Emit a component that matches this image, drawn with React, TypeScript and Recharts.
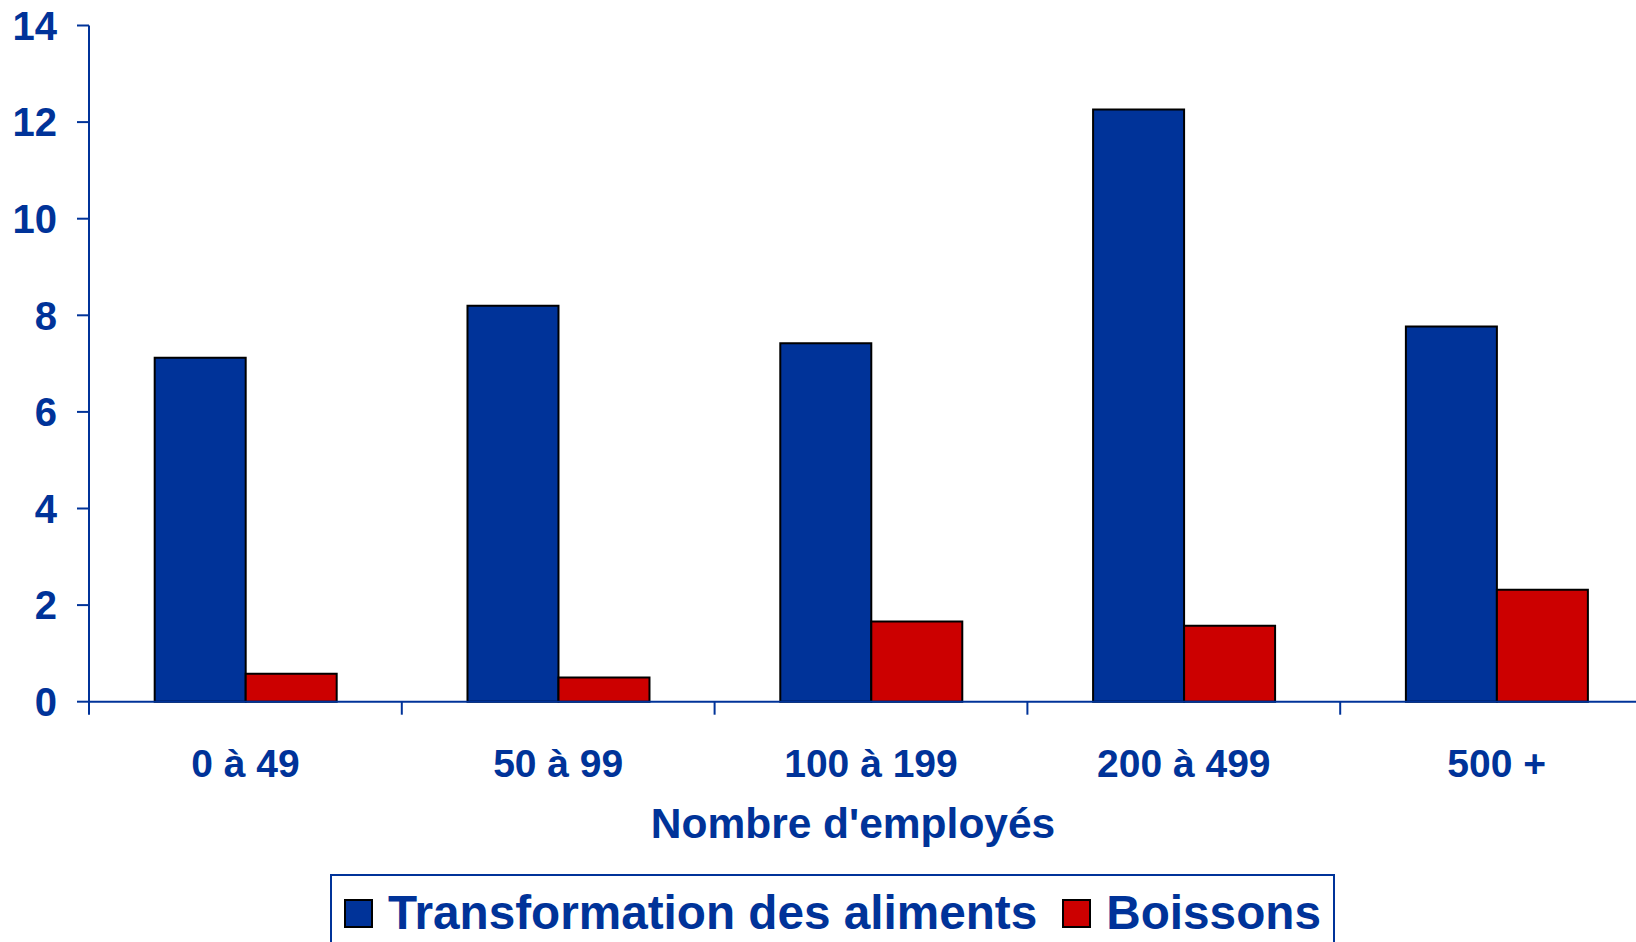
import { BarChart, Bar, XAxis, YAxis, Label } from 'recharts';

const categories = ['0 à 49', '50 à 99', '100 à 199', '200 à 499', '500 +'];
const transformation = [7.12, 8.2, 7.42, 12.26, 7.77];
const boissons = [0.58, 0.5, 1.66, 1.57, 2.32];
const yTicks = [0, 2, 4, 6, 8, 10, 12, 14];
const seriesNames = ['Transformation des aliments', 'Boissons'];
const xTitle = "Nombre d'employés";

const BLUE = '#003399';
const RED = '#CC0000';
const FONT = '"Liberation Sans", Arial, Helvetica, sans-serif';

const data = categories.map((name, i) => ({
  name,
  transformation: transformation[i],
  boissons: boissons[i],
}));

function CategoryTick(props: any) {
  const { x, y, payload } = props;
  const half = payload && payload.offset ? payload.offset : 156;
  return (
    <g>
      <line x1={x - half} x2={x - half} y1={y} y2={y + 13} stroke={BLUE} strokeWidth={2} />
      <text
        x={x}
        y={y + 48}
        dy="0.71em"
        textAnchor="middle"
        fill={BLUE}
        fontSize={39}
        fontWeight="bold"
        fontFamily={FONT}
      >
        {payload.value}
      </text>
    </g>
  );
}

function AxisTitle(props: any) {
  const vb = props.viewBox || { x: 89, y: 701.7, width: 1564 };
  return (
    <text
      x={vb.x + vb.width / 2 - 18}
      y={vb.y + 136}
      textAnchor="middle"
      fill={BLUE}
      fontSize={42.5}
      fontWeight="bold"
      fontFamily={FONT}
    >
      {xTitle}
    </text>
  );
}

function LegendBox() {
  const colors = [BLUE, RED];
  return (
    <div
      style={{
        position: 'absolute',
        left: 330,
        top: 874,
        width: 1005,
        height: 120,
        boxSizing: 'border-box',
        border: `2px solid ${BLUE}`,
        background: '#fff',
      }}
    >
      <div
        style={{
          position: 'absolute',
          left: 12,
          top: 7,
          height: 60,
          display: 'flex',
          alignItems: 'center',
          whiteSpace: 'nowrap',
        }}
      >
        {seriesNames.map((name, i) => (
          <div key={name} style={{ display: 'flex', alignItems: 'center', marginRight: 25 }}>
            <span
              style={{
                display: 'inline-block',
                width: 29,
                height: 29,
                boxSizing: 'border-box',
                border: '2px solid #000',
                background: colors[i],
                marginRight: 15,
              }}
            />
            <span
              style={{
                color: BLUE,
                fontFamily: FONT,
                fontWeight: 'bold',
                fontSize: 47.7,
                lineHeight: 1.15,
              }}
            >
              {name}
            </span>
          </div>
        ))}
      </div>
    </div>
  );
}

export default function App() {
  return (
    <div
      style={{
        position: 'fixed',
        left: 0,
        top: 0,
        width: 1636,
        height: 942,
        overflow: 'hidden',
        background: '#fff',
      }}
    >
      <BarChart
        width={1673}
        height={1000}
        data={data}
        margin={{ top: 25.5, right: 20, left: 0, bottom: 238.3 }}
        barCategoryGap="21%"
        barGap={0}
      >
        <XAxis
          dataKey="name"
          height={60}
          tickSize={0}
          tickMargin={0}
          tickLine={false}
          axisLine={{ stroke: BLUE, strokeWidth: 2 }}
          tick={<CategoryTick />}
          interval={0}
        >
          <Label content={<AxisTitle />} />
        </XAxis>
        <YAxis
          width={89}
          domain={[0, 14]}
          ticks={yTicks}
          interval={0}
          tickSize={12}
          tickMargin={20}
          axisLine={{ stroke: BLUE, strokeWidth: 2 }}
          tickLine={{ stroke: BLUE, strokeWidth: 2 }}
          tick={{ fill: BLUE, fontSize: 40, fontWeight: 'bold', fontFamily: FONT }}
        />
        <Bar
          dataKey="transformation"
          name={seriesNames[0]}
          fill={BLUE}
          stroke="#000"
          strokeWidth={2}
          isAnimationActive={false}
        />
        <Bar
          dataKey="boissons"
          name={seriesNames[1]}
          fill={RED}
          stroke="#000"
          strokeWidth={2}
          isAnimationActive={false}
        />
      </BarChart>
      <LegendBox />
    </div>
  );
}
